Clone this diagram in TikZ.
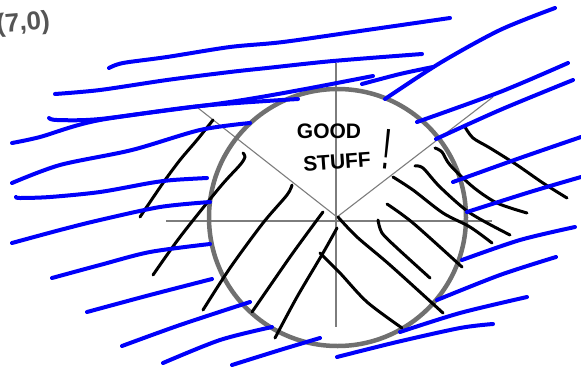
\documentclass[tikz,border=0pt]{standalone}
\usepackage{fontspec}
\setmainfont{Liberation Sans}
\usetikzlibrary{positioning}
\definecolor{penblue}{RGB}{0, 0, 250}
\definecolor{pengray}{RGB}{112, 112, 112}
\definecolor{axisgray}{RGB}{125, 125, 125}
\definecolor{labelgray}{RGB}{85, 85, 85}

\begin{document}
\begin{tikzpicture}[x=1pt, y=-1pt,
    bluestroke/.style={penblue, line width=4pt, line cap=round, line join=round},
    inkstroke/.style={black, line width=3pt, line cap=round, line join=round},
    axisline/.style={axisgray, line width=1.1pt},
    handtext/.style={inner sep=0pt, font=\fontsize{21}{21}\selectfont\bfseries}]
                \useasboundingbox (0,0) rectangle (581,370);
                
                % Axes and the two rays
                \coordinate (origin) at (337,217);
                \draw[axisline] (166,221) -- (492,221);
                \draw[axisline] (336,63) -- (336,327);
                \draw[axisline] (origin) -- (198,108);
                \draw[axisline] (origin) -- (493,97);
                
                % Circle
                \draw[pengray, line width=4.5pt] (337.5,217.5) circle[radius=128.5];
                
                % Black hatching, left side
                \draw[inkstroke] plot[smooth] coordinates {(213,120) (197,140) (180,160) (163,183) (140,217)};
                \draw[inkstroke] plot[smooth] coordinates {(243,153) (245,157) (240,165) (220,187) (180,237) (153,275)};
                \draw[inkstroke] plot[smooth] coordinates {(292,185) (287,195) (263,223) (230,268) (203,310)};
                \draw[inkstroke] plot[smooth] coordinates {(323,212) (317,220) (290,257) (252,312)};
                \draw[inkstroke] plot[smooth] coordinates {(337,228) (323,253) (297,297) (275,338)};
                
                % Black hatching, right side
                \draw[inkstroke] plot[smooth] coordinates {(338,217) (357,237) (390,265) (443,313)};
                \draw[inkstroke] plot[smooth] coordinates {(320,253) (340,273) (367,302) (402,328)};
                \draw[inkstroke] plot[smooth] coordinates {(378,220) (382,233) (397,248) (430,278)};
                \draw[inkstroke] plot[smooth] coordinates {(387,204) (413,223) (462,267)};
                \draw[inkstroke] plot[smooth] coordinates {(393,177) (413,190) (443,213) (470,227) (492,243)};
                \draw[inkstroke] plot[smooth] coordinates {(415,166) (423,168) (440,187) (470,213) (510,235)};
                \draw[inkstroke] plot[smooth] coordinates {(435,148) (442,152) (450,165) (473,187) (497,203) (527,213)};
                \draw[inkstroke] plot[smooth] coordinates {(465,127) (473,138) (490,148) (517,165) (543,183) (567,198)};
                
                % Blue strokes, top
                \draw[bluestroke] plot[smooth] coordinates {(109,68) (123,63) (167,57) (230,47) (283,42) (367,30) (450,18)};
                \draw[bluestroke] plot[smooth] coordinates {(55,94) (100,90) (167,80) (230,72) (267,68) (333,61) (422,54)};
                \draw[bluestroke] plot[smooth] coordinates {(49,118) (57,120) (100,119) (200,106) (298,99)};
                \draw[bluestroke] plot[smooth] coordinates {(12,143) (40,137) (100,120) (230,102) (300,90) (373,76)};
                \draw[bluestroke] plot[smooth] coordinates {(362,84) (400,74) (433,67)};
                \draw[bluestroke] plot[smooth] coordinates {(385,99) (440,63) (500,30) (555,8)};
                
                % Blue strokes, left
                \draw[bluestroke] plot[smooth] coordinates {(12,183) (60,165) (132,150) (200,130) (250,123)};
                \draw[bluestroke] plot[smooth] coordinates {(16,197) (20,198) (50,197) (100,192) (150,183) (173,180) (207,178)};
                \draw[bluestroke] plot[smooth] coordinates {(12,243) (60,230) (100,220) (160,207) (210,202)};
                \draw[bluestroke] plot[smooth] coordinates {(52,278) (100,265) (150,252) (210,244)};
                \draw[bluestroke] plot[smooth] coordinates {(87,312) (150,295) (212,279)};
                \draw[bluestroke] plot[smooth] coordinates {(122,346) (180,325) (250,302)};
                \draw[bluestroke] plot[smooth] coordinates {(163,363) (220,340) (272,327)};
                \draw[bluestroke] plot[smooth] coordinates {(232,365) (280,350) (320,338)};
                
                % Blue strokes, right
                \draw[bluestroke] plot[smooth] coordinates {(417,122) (500,92) (568,63)};
                \draw[bluestroke] plot[smooth] coordinates {(436,139) (500,110) (573,80)};
                \draw[bluestroke] plot[smooth] coordinates {(453,182) (520,158) (581,137)};
                \draw[bluestroke] plot[smooth] coordinates {(467,212) (530,192) (581,177)};
                \draw[bluestroke] plot[smooth] coordinates {(462,260) (520,240) (575,227)};
                \draw[bluestroke] plot[smooth] coordinates {(437,300) (500,275) (556,257)};
                \draw[bluestroke] plot[smooth] coordinates {(400,332) (460,313) (527,297)};
                \draw[bluestroke] plot[smooth] coordinates {(337,357) (397,342) (460,328) (493,324)};
                
                % Labels
                \node[handtext] (goodtxt) at (329,131) {GOOD};
                \node[handtext, rotate=4] (stufftxt) at (337,162) {STUFF};
                \node[inner sep=0pt, rotate=-6, font=\fontsize{32}{32}\selectfont] (bang) at (387,149) {\scalebox{1}[1.8]{!}};
                \node[anchor=base west, inner sep=0pt, rotate=5, text=labelgray, font=\fontsize{26}{26}\selectfont\bfseries] (pointlabel) at (-3,33) {(7,0)};
            \end{tikzpicture}
\end{document}
